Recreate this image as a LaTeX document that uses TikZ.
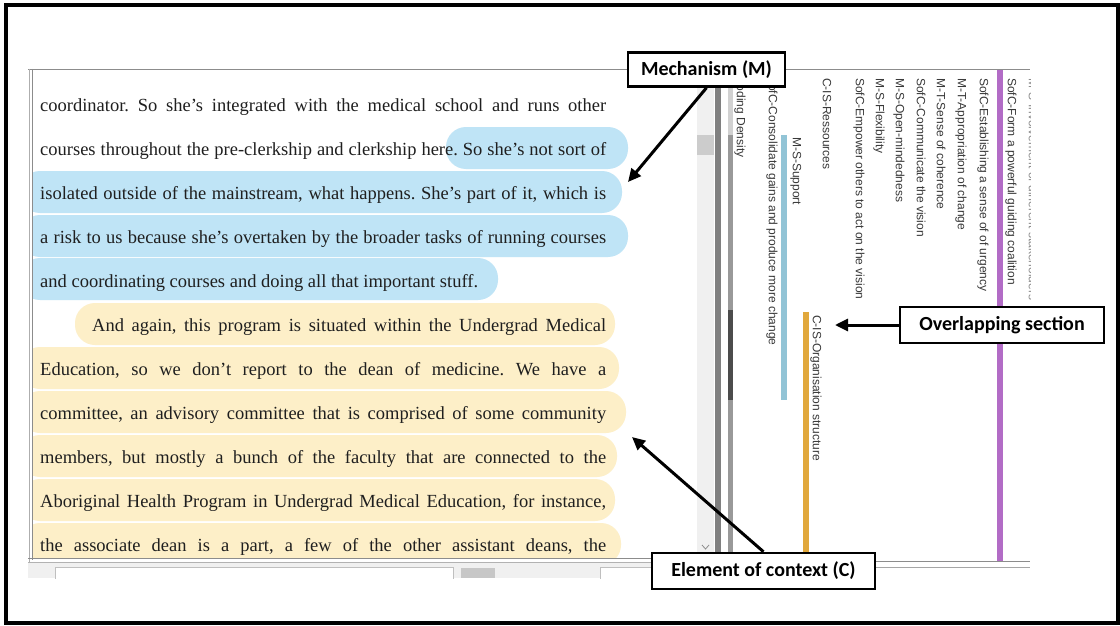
\documentclass[tikz,border=0pt]{standalone}
\usepackage{fontspec}
\setmainfont{Liberation Serif}
\newfontfamily\txtfont{Liberation Serif}
\newfontfamily\labfont{Liberation Sans}
\newfontfamily\boxfont{Carlito}
\usetikzlibrary{arrows.meta}
\frenchspacing
\definecolor{hlblue}{HTML}{BFE4F6}
\definecolor{hlyellow}{HTML}{FDEFC8}
\definecolor{barblue}{HTML}{92C4D6}
\definecolor{baryellow}{HTML}{E1A83C}
\definecolor{barpurple}{HTML}{B26CC6}
\definecolor{winline}{HTML}{8C8C8C}
\tikzset{
  txt/.style={anchor=base west, inner sep=0pt, font=\txtfont\fontsize{18.5}{21}\selectfont, text=black!88},
  lab/.style={font=\labfont\fontsize{12}{13}\selectfont, text=black!78, rotate=-90, anchor=west, inner sep=0pt, text height=8.5pt, text depth=2.2pt},
  hlb/.style={fill=hlblue, rounded corners=20pt},
  hly/.style={fill=hlyellow, rounded corners=20pt},
  callout/.style={draw=black, fill=white, line width=2.5pt, inner sep=0pt, font=\boxfont\bfseries\fontsize{20}{22}\selectfont},
  arr/.style={line width=3pt, -{Triangle[length=13pt,width=12pt]}},
}
\begin{document}
\begin{tikzpicture}[x=1pt,y=-1pt]
\useasboundingbox (0,0) rectangle (1120,626);
\fill[white] (0,0) rectangle (1120,626);
% outer frame
\draw[line width=3.5pt] (6,5) rectangle (1118,623);

% left window frame
\draw[winline, line width=0.8pt] (28,69) -- (1030,69);
\draw[winline!70, line width=1pt] (29,69) -- (29,565);
\draw[winline, line width=1pt] (32,69) -- (32,560);

% highlights
\begin{scope}
\clip (33,70) rectangle (697,558);
\fill[hlb] (446,127) rectangle (628,169);
\fill[hlb] (20,171) rectangle (622,213);
\fill[hlb] (20,215) rectangle (628,257);
\fill[hlb] (20,258) rectangle (498,300);
\fill[hly] (75,303) rectangle (615,345);
\fill[hly] (20,347) rectangle (619,389);
\fill[hly] (20,391) rectangle (626,433);
\fill[hly] (20,435) rectangle (617,477);
\fill[hly] (20,479) rectangle (615,521);
\fill[hly] (20,523) rectangle (621,565);
\end{scope}

% text lines
\node[txt] (l1) at (40,112) {\makebox[566pt][s]{coordinator. So she’s integrated with the medical school and runs other}};
\node[txt] (l2) at (40,155.9) {\makebox[566pt][s]{courses throughout the pre-clerkship and clerkship here. So she’s not sort of}};
\node[txt] (l3) at (40,199.8) {\makebox[566pt][s]{isolated outside of the mainstream, what happens. She’s part of it, which is}};
\node[txt] (l4) at (40,243.7) {\makebox[566pt][s]{a risk to us because she’s overtaken by the broader tasks of running courses}};
\node[txt] (l5) at (40,287.6) {and coordinating courses and doing all that important stuff.};
\node[txt] (l6) at (92,331.5) {\makebox[514pt][s]{And again, this program is situated within the Undergrad Medical}};
\node[txt] (l7) at (40,375.4) {\makebox[566pt][s]{Education, so we don’t report to the dean of medicine. We have a}};
\node[txt] (l8) at (40,419.3) {\makebox[566pt][s]{committee, an advisory committee that is comprised of some community}};
\node[txt] (l9) at (40,463.2) {\makebox[566pt][s]{members, but mostly a bunch of the faculty that are connected to the}};
\node[txt] (l10) at (40,507.1) {\makebox[566pt][s]{Aboriginal Health Program in Undergrad Medical Education, for instance,}};
\node[txt] (l11) at (40,551) {\makebox[566pt][s]{the associate dean is a part, a few of the other assistant deans, the}};

% scrollbar of left window
\fill[black!6] (697,70) rectangle (714,558);
\fill[black!20] (697,135) rectangle (714,155);
\draw[black!45, line width=0.8pt] (702,545) -- (705.5,549) -- (709,545);

% bottom edges
\draw[winline, line width=1pt] (28,558) -- (715,558);
\draw[black!30, line width=1pt] (28,562) -- (715,562);
\fill[black!6] (28,563) rectangle (715,578);
\draw[black!25, fill=white] (55,567) rectangle (453,580);
\fill[black!22] (461,568) rectangle (495,578);
\draw[black!25, fill=white] (600,567) rectangle (700,580);
\fill[white] (20,579) rectangle (1100,600);

% divider bars
\fill[black!50] (715,69) rectangle (721,560);
\fill[black!18] (728,69) rectangle (733,135);
\fill[black!40] (728,135) rectangle (733,310);
\fill[black!70] (728,310) rectangle (733,400);
\fill[black!40] (728,400) rectangle (733,558);

% right panel bottom lines
\draw[winline, line width=1pt] (721,561) -- (1030,561);
\draw[black!35, line width=1pt] (721,567) -- (1030,567);

% coding stripes
\fill[barblue] (781,135) rectangle (787,400);
\fill[baryellow] (803,312) rectangle (809,553);
\fill[barpurple] (997,70) rectangle (1003,561);

% stripe labels
\node[lab] (t1) at (740,76) {Coding Density};
\node[lab] (t2) at (772,76) {SofC-Consolidate gains and produce more change};
\node[lab] (t3) at (796,137) {M-S-Support};
\node[lab] (t4) at (816,315) {C-IS-Organisation structure};
\node[lab] (t5) at (826,78) {C-IS-Ressources};
\node[lab] (t6) at (859,78) {SofC-Empower others to act on the vision};
\node[lab] (t7) at (879,78) {M-S-Flexibility};
\node[lab] (t8) at (899,78) {M-S-Open-mindedness};
\node[lab] (t9) at (920,78) {SofC-Communicate the vision};
\node[lab] (t10) at (940,78) {M-T-Sense of coherence};
\node[lab] (t11) at (961,78) {M-T-Appropriation of change};
\node[lab] (t12) at (983,78) {SofC-Establishing a sense of of urgency};
\node[lab] (t13) at (1011,78) {SofC-Form a powerful guiding coalition};
\begin{scope}
\clip (1020,70) rectangle (1030,400);
\node[lab, text=black!45] (t14) at (1032,78) {M-S-Involvement of different stakeholders};
\end{scope}

% callouts
\node[callout, minimum width=157pt, minimum height=34pt] (mech) at (706.5,69.5) {Mechanism (M)};
\node[callout, minimum width=204pt, minimum height=36pt] (over) at (1002,325) {Overlapping section};
\node[callout, minimum width=223pt, minimum height=36pt] (elem) at (763.5,571) {Element of context (C)};

\coordinate (mtip) at (628,182);
\coordinate (otip) at (835,325);
\coordinate (etip) at (632,437);
\draw[arr] (mech.south) -- (mtip);
\draw[arr] (over.west) -- (otip);
\draw[arr] (elem.north) -- (etip);
\end{tikzpicture}
\end{document}
